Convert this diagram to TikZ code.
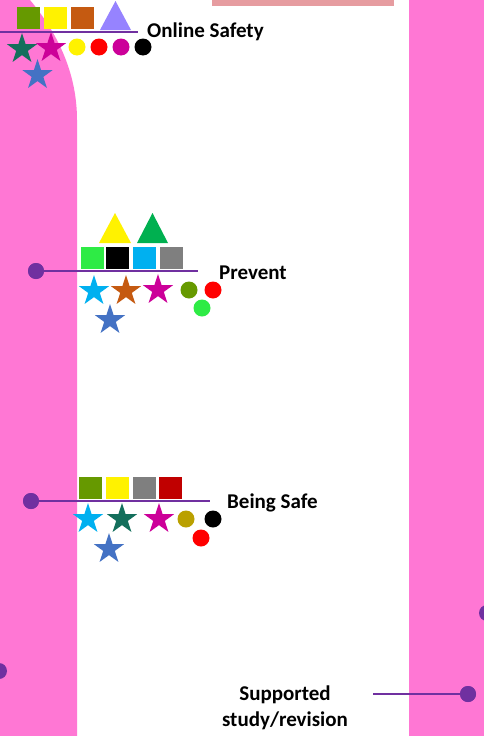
\documentclass[tikz,border=0pt]{standalone}
\usepackage{fontspec}
\setmainfont{Carlito}
\usetikzlibrary{shapes.geometric}
\definecolor{band}{HTML}{FF77D4}
\definecolor{topbar}{HTML}{E69CA0}
\definecolor{purp}{HTML}{7030A0}
\definecolor{olive}{HTML}{669900}
\definecolor{orng}{HTML}{C55A11}
\definecolor{lav}{HTML}{9683FF}
\definecolor{teal}{HTML}{146F5C}
\definecolor{mag}{HTML}{CC0099}
\definecolor{blu}{HTML}{4472C4}
\definecolor{bgreen}{HTML}{2EEB45}
\definecolor{cyn}{HTML}{00B0F0}
\definecolor{grn}{HTML}{00B050}
\definecolor{gry}{HTML}{7F7F7F}
\definecolor{dred}{HTML}{C00000}
\definecolor{gold}{HTML}{BAA000}
\begin{document}
\begin{tikzpicture}[x=1pt,y=-1pt,
  sq/.style={rectangle, minimum width=23pt, minimum height=22pt, inner sep=0pt, fill=#1},
  st/.style={star, star points=5, star point ratio=2.618, minimum size=32pt, inner sep=0pt, fill=#1},
  crc/.style={circle, minimum size=17pt, inner sep=0pt, fill=#1},
  pdot/.style={circle, minimum size=16pt, inner sep=0pt, fill=purp},
  pline/.style={draw=purp, line width=2.5pt},
  lbl/.style={font=\fontsize{21}{26}\selectfont\bfseries, inner sep=0pt, text=black}]
\useasboundingbox (0,0) rectangle (484,736);
\clip (0,0) rectangle (484,736);
\fill[white] (0,0) rectangle (484,736);
% bands
\fill[band] (0,0) -- (30,0) .. controls (55,30) and (77,70) .. (77,120) -- (77,736) -- (0,736) -- cycle;
\fill[band] (409,0) rectangle (484,736);
\fill[topbar] (212,0) rectangle (394,6);

% ---------- Online Safety
\coordinate (osL) at (0,32);
\coordinate (osR) at (138,32);
\draw[pline] (osL) -- (osR);
\node[sq=olive] (os1) at (28.5,18) {};
\node[sq=yellow] (os2) at (55.5,18) {};
\node[sq=orng] (os3) at (82.5,18) {};
\fill[lav] (100,30) -- (131,30) -- (115.5,1) -- cycle;
\node[st=teal] (oss1) at (22,49) {};
\node[st=mag] (oss2) at (51,48) {};
\node[st=blu] (oss3) at (37.5,75) {};
\node[crc=yellow] (osc1) at (77,47) {};
\node[crc=red] (osc2) at (99,47) {};
\node[crc=mag] (osc3) at (121,47) {};
\node[crc=black] (osc4) at (143,47) {};
\node[lbl, anchor=base west] (ost) at (147,37) {Online Safety};

% ---------- Prevent
\node[pdot] (pd) at (36,271) {};
\coordinate (pR) at (198,271);
\draw[pline] (pd.center) -- (pR);
\fill[yellow] (99,243) -- (131,243) -- (115,213) -- cycle;
\fill[grn] (137,243) -- (168,243) -- (152.5,213) -- cycle;
\node[sq=bgreen] (p1) at (92.5,258) {};
\node[sq=black] (p2) at (117.5,258) {};
\node[sq=cyn] (p3) at (144.5,258) {};
\node[sq=gry] (p4) at (171.5,258) {};
\node[pdot] at (36,271) {};
\node[st=cyn] (ps1) at (94,291) {};
\node[st=orng] (ps2) at (126,291) {};
\node[st=mag] (ps3) at (158,290) {};
\node[st=blu] (ps4) at (110,320) {};
\node[crc=olive] (pc1) at (189,290) {};
\node[crc=red] (pc2) at (213,290) {};
\node[crc=bgreen] (pc3) at (202,308) {};
\node[lbl, anchor=base west] (pt) at (219,279) {Prevent};

% ---------- Being Safe
\node[pdot] (bd) at (31,501) {};
\coordinate (bR) at (210,501);
\draw[pline] (bd.center) -- (bR);
\node[sq=olive] (b1) at (90.5,488) {};
\node[sq=yellow] (b2) at (117.5,488) {};
\node[sq=gry] (b3) at (144.5,488) {};
\node[sq=dred] (b4) at (170.5,488) {};
\node[pdot] at (31,501) {};
\node[st=cyn] (bs1) at (88,519) {};
\node[st=teal] (bs2) at (122,519) {};
\node[st=mag] (bs3) at (159,519) {};
\node[st=blu] (bs4) at (109,549) {};
\node[crc=gold] (bc1) at (186,519) {};
\node[crc=black] (bc2) at (213,519) {};
\node[crc=red] (bc3) at (201,538) {};
\node[lbl, anchor=base west] (bt) at (227,508) {Being Safe};

% ---------- Supported study/revision
\node[pdot] (sd) at (468,694) {};
\coordinate (sL) at (373,694);
\draw[pline] (sL) -- (sd.center);
\node[pdot] at (468,694) {};
\node[lbl, anchor=base, align=center] (stxt) at (285,726) {Supported\\study/revision};

% ---------- edge dots
\node[pdot] (rd) at (487,613) {};
\node[pdot] (ld) at (-1,671) {};
\end{tikzpicture}
\end{document}
